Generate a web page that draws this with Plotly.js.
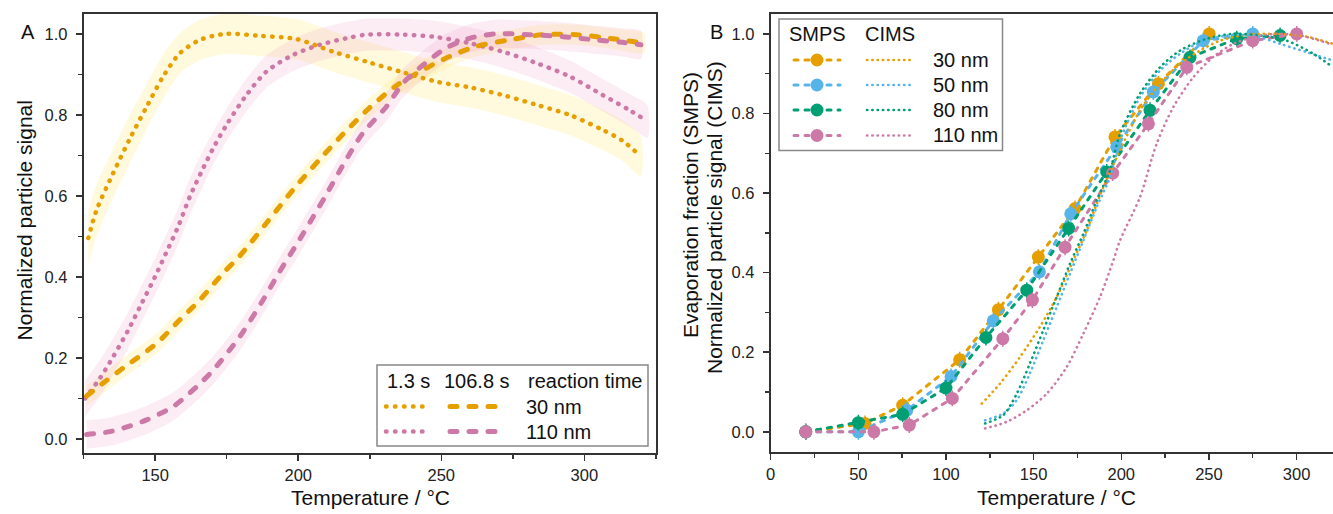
<!DOCTYPE html>
<html><head><meta charset="utf-8">
<script src="https://cdn.plot.ly/plotly-3.0.1.min.js"></script>
<style>
html,body{margin:0;padding:0;background:#fff;}
#chart{width:1333px;height:514px;}
#chart path.js-line{stroke-linecap:round;}
#chart .shapelayer path{stroke-linecap:round;}
</style></head><body><div id="chart"></div>
<script>
// ---------- Panel A: normalized particle signal vs temperature ----------
const tA_dot30 = [126.6,129.5,135.3,141.2,147.0,152.8,158.6,165.6,174.6,186.6,199.4,212.2,225.0,236.6,248.3,259.9,271.5,283.2,294.8,306.4,313.4,319.8];
const yA_dot30 = [0.496,0.565,0.656,0.742,0.820,0.895,0.952,0.985,1.000,0.995,0.987,0.956,0.929,0.905,0.882,0.868,0.849,0.825,0.800,0.763,0.736,0.697];
const eA_dot30 = [0.065,0.065,0.06,0.06,0.055,0.055,0.05,0.05,0.05,0.05,0.05,0.05,0.05,0.05,0.05,0.05,0.05,0.05,0.05,0.05,0.05,0.05];

const tA_dot110 = [125.5,130.7,135.3,140.6,145.3,149.9,154.0,158.0,162.1,166.2,170.3,174.9,181.9,188.9,198.2,207.5,216.8,223.8,236.6,248.3,259.9,271.5,283.2,294.8,306.4,315.7,322.1];
const yA_dot110 = [0.100,0.150,0.203,0.269,0.335,0.400,0.462,0.524,0.598,0.660,0.718,0.775,0.849,0.907,0.948,0.973,0.989,0.998,0.998,0.992,0.977,0.956,0.928,0.895,0.849,0.812,0.784];
const eA_dot110 = [0.045,0.045,0.045,0.045,0.045,0.045,0.045,0.045,0.045,0.045,0.04,0.04,0.04,0.04,0.04,0.04,0.04,0.04,0.04,0.04,0.04,0.04,0.04,0.04,0.04,0.04,0.04];

const tA_dash30 = [126.0,131.8,138.8,150.5,158.6,165.6,173.7,179.6,188.9,198.2,207.5,215.6,225.0,234.3,243.6,252.9,262.2,273.9,285.5,297.2,308.8,321.0];
const yA_dash30 = [0.106,0.138,0.175,0.236,0.294,0.343,0.409,0.452,0.533,0.615,0.690,0.752,0.818,0.872,0.911,0.944,0.969,0.985,0.998,0.998,0.989,0.977];
const eA_dash30 = [0.025,0.025,0.025,0.025,0.025,0.025,0.025,0.025,0.025,0.025,0.025,0.025,0.025,0.025,0.025,0.025,0.025,0.025,0.025,0.025,0.025,0.025];

const tA_dash110 = [126.0,134.2,141.2,147.0,156.3,164.5,170.3,179.6,187.7,193.5,199.4,205.2,209.8,216.8,222.6,230.8,236.6,243.6,251.7,259.9,269.2,280.8,292.5,304.1,313.4,319.8];
const yA_dash110 = [0.011,0.018,0.032,0.047,0.080,0.129,0.170,0.253,0.343,0.413,0.480,0.548,0.603,0.690,0.755,0.820,0.878,0.923,0.965,0.989,1.000,0.998,0.993,0.985,0.979,0.973];
const eA_dash110 = [0.035,0.035,0.035,0.035,0.035,0.035,0.035,0.035,0.035,0.035,0.035,0.035,0.035,0.035,0.035,0.035,0.035,0.035,0.035,0.035,0.035,0.035,0.035,0.035,0.035,0.035];

// ---------- Panel B: SMPS evaporation fraction (markers) ----------
const tB_smps30 = [20,53.8,75.3,107.8,129.9,152.7,173.6,196.4,221.2,250.2];
const yB_smps30 = [0,0.021,0.067,0.181,0.307,0.439,0.561,0.741,0.875,1.0];
const tB_smps50 = [20,50,77.6,102.9,127.0,153.3,171.2,197.4,218.3,246.8,275.0];
const yB_smps50 = [0,0,0.054,0.139,0.279,0.402,0.548,0.716,0.854,0.983,1.0];
const tB_smps80 = [20,50,75.3,100,122.8,146.1,170.0,191.7,216.4,239.2,265.9,290.6];
const yB_smps80 = [0,0.023,0.044,0.110,0.237,0.356,0.511,0.653,0.808,0.941,0.988,0.996];
const tB_smps110 = [20,58.9,79.1,103.6,132.4,149.3,167.9,195.1,215.5,237.4,275.0,300.1];
const yB_smps110 = [0,0,0.017,0.084,0.234,0.331,0.464,0.650,0.774,0.916,0.983,1.0];

// ---------- Panel B: CIMS normalized particle signal (dotted) ----------
const tB_cims30 = [120.4,130.8,142.2,153.6,163.2,172.6,180.3,187.9,199.3,210.7,222.1,233.5,244.9,256.3,271.6,288.7,305.8,320.8];
const yB_cims30 = [0.071,0.121,0.188,0.264,0.339,0.431,0.506,0.595,0.707,0.808,0.875,0.925,0.958,0.983,0.998,1.0,0.993,0.975];
const tB_cims50 = [122.3,132.7,140.4,147.9,155.5,163.2,170.8,178.4,186.0,193.6,199.3,210.7,222.1,233.5,244.9,260.2,275.3,290.6,305.8,320.8];
const yB_cims50 = [0.029,0.046,0.080,0.147,0.230,0.314,0.398,0.481,0.565,0.640,0.732,0.841,0.908,0.950,0.979,0.996,0.996,0.975,0.954,0.933];
const tB_cims80 = [122.3,132.7,140.4,147.9,155.5,163.2,170.8,178.4,186.0,193.6,199.3,210.7,222.1,233.5,248.8,263.9,279.2,294.4,309.6,320.8];
const yB_cims80 = [0.021,0.042,0.096,0.172,0.255,0.339,0.423,0.498,0.582,0.657,0.749,0.850,0.916,0.958,0.988,1.0,0.996,0.983,0.950,0.916];
const tB_cims110 = [122.3,134.6,146.1,157.5,168.9,178.4,187.9,195.5,199.3,210.7,220.2,229.7,241.1,252.5,263.9,275.3,288.7,302.0,319.1];
const yB_cims110 = [0.0085,0.025,0.054,0.096,0.163,0.247,0.339,0.431,0.481,0.590,0.724,0.816,0.891,0.942,0.975,0.992,1.0,0.996,0.975];

const smpsErr = [0.02,0.02,0.02,0.02,0.02,0.02,0.02,0.02,0.02,0.02,0.02,0.02];

// ---------- labels ----------
const legendA_header = ['1.3 s','106.8 s','reaction time'];
const legendA_sizes = ['30 nm','110 nm'];
const legendB_header = ['SMPS','CIMS'];
const legendB_sizes = ['30 nm','50 nm','80 nm','110 nm'];
const xTitle = 'Temperature / °C';
const yTitleA = 'Normalized particle signal';
const yTitleB1 = 'Evaporation fraction (SMPS)';
const yTitleB2 = 'Normalized particle signal (CIMS)';

// ---------- styling ----------
const ORANGE = '#E69F00', PINK = '#CC79A7', BLUE = '#56B4E9', GREEN = '#009E73';
const YELLOW_BAND = 'rgba(255,228,90,0.2)', PINK_BAND = 'rgba(232,135,190,0.15)';
const FONT = 'Liberation Sans, Arial, Helvetica, sans-serif';
const W = 1333, H = 514;
const px = x => x / W, py = y => 1 - y / H;

function band(t, y, e, color) {
  const up = y.map((v, i) => v + e[i]);
  const lo = y.map((v, i) => v - e[i]);
  return {x: t.concat(t.slice().reverse()), y: up.concat(lo.slice().reverse()),
    xaxis: 'x', yaxis: 'y', type: 'scatter', mode: 'lines', fill: 'toself',
    fillcolor: color, line: {width: 0, shape: 'spline', smoothing: 0.6}, hoverinfo: 'skip', showlegend: false};
}
function lineA(t, y, color, dash, width) {
  return {x: t, y: y, xaxis: 'x', yaxis: 'y', type: 'scatter', mode: 'lines',
    line: {color: color, dash: dash, width: width, shape: 'spline', smoothing: 0.8}, showlegend: false};
}
function smps(t, y, color) {
  return {x: t, y: y, xaxis: 'x2', yaxis: 'y2', type: 'scatter', mode: 'lines+markers',
    line: {color: color, dash: '4px,7px', width: 3},
    marker: {color: color, size: 13, line: {width: 0}},
    error_y: {type: 'data', array: smpsErr.slice(0, t.length), color: color, thickness: 1.5, width: 0},
    showlegend: false};
}
function cims(t, y, color) {
  return {x: t, y: y, xaxis: 'x2', yaxis: 'y2', type: 'scatter', mode: 'lines',
    line: {color: color, dash: '0.3px,5px', width: 2.6, shape: 'spline', smoothing: 0.8}, showlegend: false};
}

const data = [
  band(tA_dot30, yA_dot30, eA_dot30, YELLOW_BAND),
  band(tA_dash30, yA_dash30, eA_dash30, YELLOW_BAND),
  band(tA_dot110, yA_dot110, eA_dot110, PINK_BAND),
  band(tA_dash110, yA_dash110, eA_dash110, PINK_BAND),
  lineA(tA_dot30, yA_dot30, ORANGE, '0.5px,8.2px', 4.5),
  lineA(tA_dot110, yA_dot110, PINK, '0.5px,8.2px', 4.5),
  lineA(tA_dash30, yA_dash30, ORANGE, '7px,12px', 5),
  lineA(tA_dash110, yA_dash110, PINK, '7px,12px', 5),
  smps(tB_smps30, yB_smps30, ORANGE),
  smps(tB_smps50, yB_smps50, BLUE),
  smps(tB_smps80, yB_smps80, GREEN),
  smps(tB_smps110, yB_smps110, PINK),
  cims(tB_cims30, yB_cims30, ORANGE),
  cims(tB_cims50, yB_cims50, BLUE),
  cims(tB_cims80, yB_cims80, GREEN),
  cims(tB_cims110, yB_cims110, PINK)
];

const axisCommon = {
  showline: true, linewidth: 2, linecolor: '#333', ticks: 'outside', ticklen: 6, tickwidth: 1.5,
  tickcolor: '#333', showgrid: false, zeroline: false,
  tickfont: {family: FONT, size: 16.5, color: '#222'}
};

const shapes = [];
const ann = [];
function text(t, x, y, opts) {
  ann.push(Object.assign({text: t, x: px(x), y: py(y), xref: 'paper', yref: 'paper', showarrow: false,
    xanchor: 'center', yanchor: 'middle', font: {family: FONT, size: 20, color: '#111'}}, opts || {}));
}
function hline(x0, x1, y, color, dash, width) {
  shapes.push({type: 'line', xref: 'paper', yref: 'paper', x0: px(x0), x1: px(x1), y0: py(y), y1: py(y),
    line: {color: color, dash: dash, width: width}});
}
const bigFont = {family: FONT, size: 21, color: '#111'};

// Panel letters and titles
text('A', 28, 32);
text('B', 716, 32);
text(xTitle, 370, 497, {font: bigFont});
text(xTitle, 1056, 497, {font: bigFont});
text(yTitleA, 23.5, 221, {textangle: -90, font: bigFont});
text(yTitleB1, 690, 205, {textangle: -90, font: bigFont});
text(yTitleB2, 714, 217, {textangle: -90, font: bigFont});

// Legend A
shapes.push({type: 'rect', xref: 'paper', yref: 'paper', x0: px(377), x1: px(648), y0: py(365), y1: py(446),
  line: {color: '#888', width: 1.5}, fillcolor: 'rgba(255,255,255,0)'});
text(legendA_header[0], 408.5, 381);
text(legendA_header[1], 477, 381);
text(legendA_header[2], 585, 381);
[[ORANGE, 406.5], [PINK, 431.5]].forEach((r, i) => {
  hline(386, 431, r[1], r[0], '0.5px,8.5px', 4.5);
  hline(450, 495, r[1], r[0], '7px,12px', 5);
  text(legendA_sizes[i], 524, r[1], {xanchor: 'left'});
});

// Legend B
shapes.push({type: 'rect', xref: 'paper', yref: 'paper', x0: px(779), x1: px(1002.5), y0: py(19), y1: py(150.5),
  line: {color: '#888', width: 1.5}, fillcolor: 'rgba(255,255,255,0)'});
text(legendB_header[0], 817, 34);
text(legendB_header[1], 890, 34);
[[ORANGE, 60], [BLUE, 85], [GREEN, 110], [PINK, 135.5]].forEach((r, i) => {
  hline(794, 840, r[1], r[0], '4px,7px', 3);
  shapes.push({type: 'circle', xref: 'paper', yref: 'paper', xsizemode: 'pixel', ysizemode: 'pixel',
    xanchor: px(817), yanchor: py(r[1]), x0: -6.5, x1: 6.5, y0: -6.5, y1: 6.5,
    fillcolor: r[0], line: {width: 0}});
  hline(867, 913, r[1], r[0], '0.3px,5px', 2.6);
  text(legendB_sizes[i], 931, r[1], {xanchor: 'left'});
});

const layout = {
  width: W, height: H, margin: {l: 0, r: 0, t: 0, b: 0}, paper_bgcolor: '#fff', plot_bgcolor: 'rgba(0,0,0,0)',
  showlegend: false, font: {family: FONT, color: '#111'},
  xaxis: Object.assign({}, axisCommon, {domain: [px(83.7), px(655.8)], range: [125, 325], anchor: 'y',
    mirror: true, tick0: 0, dtick: 50, ticklabelstandoff: 0,
    minor: {dtick: 25, ticklen: 4, tickwidth: 1.5, tickcolor: '#333', ticks: 'outside', showgrid: false}}),
  yaxis: Object.assign({}, axisCommon, {domain: [py(452.7), py(14)], range: [-0.034, 1.049], anchor: 'x',
    mirror: true, tick0: 0, dtick: 0.2, tickformat: '.1f', ticklabelstandoff: 5,
    minor: {dtick: 0.1, ticklen: 4, tickwidth: 1.5, tickcolor: '#333', ticks: 'outside', showgrid: false}}),
  xaxis2: Object.assign({}, axisCommon, {domain: [px(770.7), 1], range: [0, 320.8], anchor: 'y2',
    mirror: true, tick0: 0, dtick: 50, ticklabelstandoff: 0,
    minor: {dtick: 25, ticklen: 4, tickwidth: 1.5, tickcolor: '#333', ticks: 'outside', showgrid: false}}),
  yaxis2: Object.assign({}, axisCommon, {domain: [py(451.7), py(14)], range: [-0.05, 1.05], anchor: 'x2',
    mirror: false, tick0: 0, dtick: 0.2, tickformat: '.1f', ticklabelstandoff: 5,
    minor: {dtick: 0.1, ticklen: 4, tickwidth: 1.5, tickcolor: '#333', ticks: 'outside', showgrid: false}}),
  shapes: shapes,
  annotations: ann
};

Plotly.newPlot('chart', data, layout, {staticPlot: true, displayModeBar: false});
</script></body></html>
